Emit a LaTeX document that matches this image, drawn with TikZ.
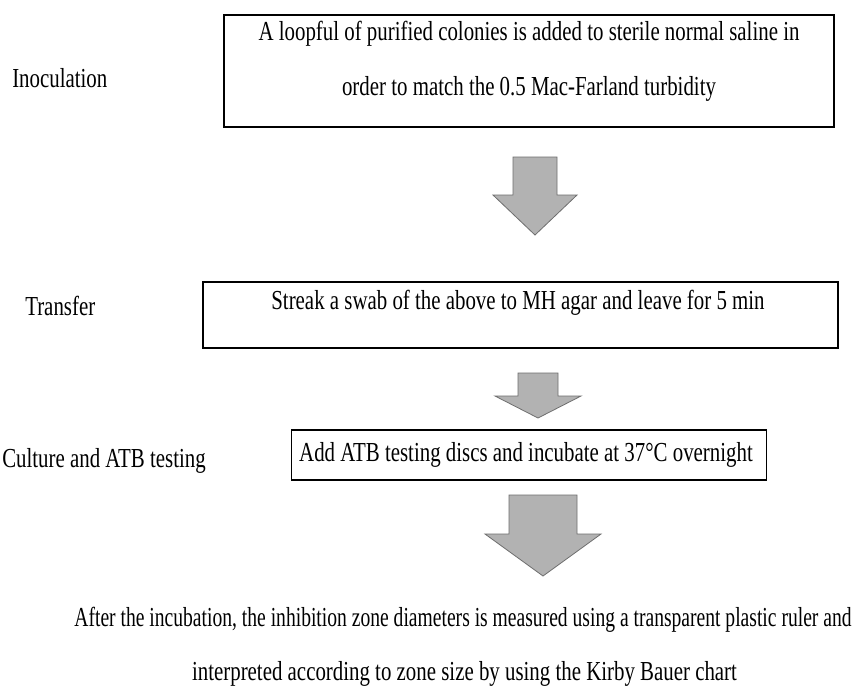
\documentclass[tikz,border=0pt]{standalone}
\usepackage{fontspec}
\setmainfont{Liberation Serif}[FakeStretch=0.76]
\newfontfamily\narrowfont{Liberation Serif}[FakeStretch=0.713]
\usetikzlibrary{calc}
\tikzset{
  x=0.75pt, y=-0.75pt,
  stepbox/.style={draw=black, line width=1.1pt, rectangle, inner sep=0pt},
  lbl/.style={inner sep=0pt, font=\fontsize{20.6}{41.25}\selectfont},
  txt/.style={inner sep=0pt, align=center, font=\fontsize{20.6}{41.25}\selectfont},
  blockarrow/.style={fill={rgb,255:red,178;green,178;blue,178}, draw={rgb,255:red,110;green,110;blue,110}, line width=0.6pt, line join=miter}
}
% #1 centre x, #2 top y, #3 head top y, #4 tip y, #5 shaft half width, #6 head half width
\newcommand{\bArrow}[6]{%
  \draw[blockarrow] (#1-#5,#2) -- (#1+#5,#2) -- (#1+#5,#3) -- (#1+#6,#3) -- (#1,#4) -- (#1-#6,#3) -- (#1-#5,#3) -- cycle;}
\begin{document}
\begin{tikzpicture}
\useasboundingbox (0,0) rectangle (856,694);
\fill[white] (0,0) rectangle (856,694);

% side labels
\node[lbl, anchor=west] (l1) at (12,78) {Inoculation};
\node[lbl, anchor=west] (l2) at (25,306) {Transfer};
\node[lbl, anchor=west] (l3) at (2,461) {Culture and ATB testing};

% boxes
\node[stepbox, minimum width=610*0.75pt, minimum height=112*0.75pt] (b1) at (529,71) {};
\node[txt] (t1) at (529,61) {A loopful of purified colonies is added to sterile normal saline in\\order to match the 0.5 Mac-Farland turbidity};

\node[stepbox, minimum width=635*0.75pt, minimum height=66*0.75pt] (b2) at (520.5,315) {};
\node[txt] (t2) at (518,303) {Streak a swab of the above to MH agar and leave for 5 min};

\node[stepbox, minimum width=475*0.75pt, minimum height=50*0.75pt] (b3) at (529,455) {};
\node[txt] (t3) at (526,455) {Add ATB testing discs and incubate at 37°C overnight};

% final text
\node[txt, font=\fontsize{20.6}{41.25}\narrowfont] (t4) at (463,620) {After the incubation, the inhibition zone diameters is measured using a transparent plastic ruler and};
\node[txt] (t5) at (464.5,674) {interpreted according to zone size by using the Kirby Bauer chart};

% block arrows
\bArrow{535}{157}{195}{235}{22}{42}
\bArrow{538}{373}{396}{418}{20}{43}
\bArrow{543}{495}{534}{576}{34}{58}
\end{tikzpicture}
\end{document}
